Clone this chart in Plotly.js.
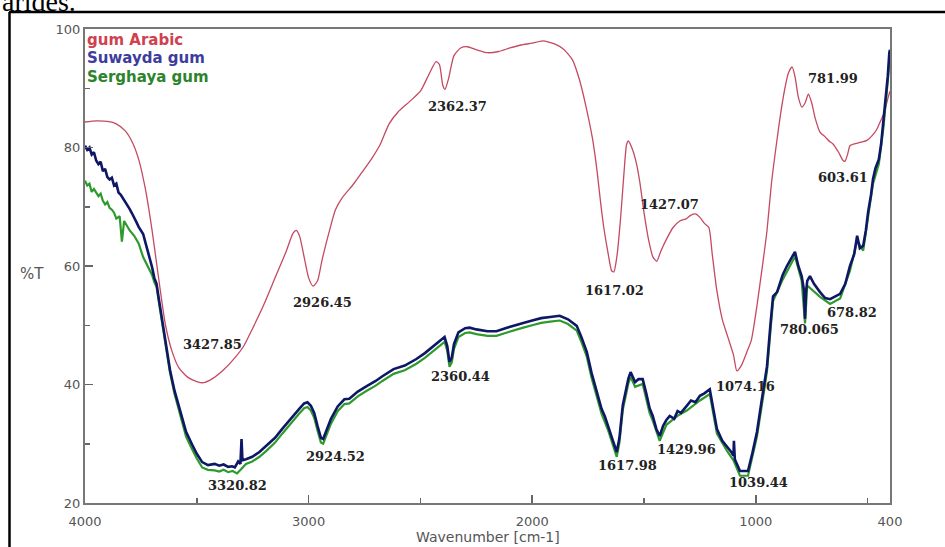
<!DOCTYPE html>
<html>
<head>
<meta charset="utf-8">
<script src="https://cdn.plot.ly/plotly-3.0.1.min.js"></script>
<style>html,body{margin:0;padding:0;background:#fff;}#chart{width:945px;height:547px;}</style>
</head>
<body>
<div id="chart"></div>
<script>
// ---- Data ----
const seriesNames = ["gum Arabic", "Suwayda gum", "Serghaya gum"];

const arabicX = [4000,3950,3900,3860,3820,3790,3760,3730,3700,3680,3660,3640,3610,3580,3540,3500,3470,3430,3380,3330,3290,3250,3200,3150,3100,3070,3055,3040,3020,3000,2980,2960,2940,2910,2880,2850,2800,2760,2720,2680,2640,2600,2550,2500,2460,2430,2415,2400,2390,2375,2350,2320,2290,2250,2200,2150,2100,2050,2000,1953,1900,1860,1820,1790,1760,1730,1710,1695,1680,1660,1645,1635,1620,1605,1590,1578,1570,1555,1535,1519,1500,1480,1460,1443,1425,1400,1370,1340,1310,1290,1270,1250,1230,1210,1195,1175,1150,1125,1100,1085,1065,1040,1020,1000,985,968,950,930,910,890,870,855,838,825,810,794,780,765,750,735,713,690,670,655,630,610,601,590,579,560,530,503,480,460,444,425,410,400];
const arabicY = [84.3,84.5,84.4,84.0,82.8,81.0,78.0,73.0,66.0,60.5,55.0,50.0,45.5,42.8,41.2,40.5,40.3,41.0,42.5,44.5,46.5,49.5,53.5,58.0,62.5,65.5,66.0,65.0,61.5,58.0,56.6,57.5,61.0,65.5,69.5,71.5,73.8,75.9,78.0,80.5,84.0,86.0,87.7,89.5,92.5,94.5,94.0,90.5,89.8,91.5,95.5,96.8,97.0,96.5,96.0,96.2,96.8,97.3,97.6,98.0,97.5,96.6,94.8,91.6,87.0,81.4,76.0,71.0,66.5,62.0,59.2,59.0,62.0,68.0,75.5,80.5,81.1,80.0,77.5,74.2,69.0,64.5,61.5,60.8,62.5,64.5,66.5,67.6,68.0,68.6,68.8,68.2,67.2,66.5,62.0,56.0,51.0,48.0,45.0,42.3,43.2,45.5,47.5,52.0,56.0,60.7,66.0,74.0,80.0,85.5,90.0,92.5,93.6,92.0,88.5,86.8,87.5,89.0,87.5,85.0,82.6,81.8,81.0,80.6,79.2,77.8,77.7,78.8,80.3,80.6,80.9,81.2,82.0,83.0,84.3,86.0,88.2,89.5];

const suwaydaX = [4000,3990,3980,3970,3960,3950,3940,3930,3920,3910,3900,3890,3880,3870,3860,3850,3840,3830,3820,3810,3800,3790,3780,3770,3760,3750,3740,3730,3720,3710,3700,3690,3680,3670,3660,3650,3640,3620,3600,3590,3570,3548,3520,3500,3476,3450,3420,3400,3380,3360,3342,3330,3315,3305,3300,3296,3280,3252,3220,3189,3150,3118,3080,3042,3020,3005,2990,2975,2960,2945,2935,2920,2900,2870,2840,2818,2780,2742,2700,2670,2620,2570,2518,2480,2440,2400,2392,2380,2370,2360,2350,2330,2300,2280,2250,2200,2160,2120,2080,2040,2000,1960,1920,1877,1840,1801,1780,1756,1735,1712,1700,1690,1675,1660,1650,1640,1622,1610,1595,1580,1570,1560,1550,1540,1525,1506,1490,1475,1461,1445,1430,1415,1400,1385,1365,1350,1335,1320,1309,1290,1270,1250,1230,1206,1195,1174,1150,1129,1110,1100,1098,1094,1080,1071,1050,1035,1015,995,975,960,950,935,923,905,880,861,840,825,810,795,785,780,776,770,758,740,713,690,668,645,623,600,579,560,547,535,520,508,498,485,476,465,450,440,430,420,410,403,400];
const suwaydaY = [80.3,79.6,80.0,78.8,79.2,77.8,77.2,77.6,76.0,76.4,75.0,74.6,74.9,73.6,73.9,72.4,72.0,71.4,71.0,70.2,69.6,68.9,68.0,67.4,66.6,66.0,65.4,64.0,62.7,61.0,59.8,58.0,57.0,54.5,52.0,49.5,47.0,42.5,39.0,37.6,34.8,32.0,29.8,28.3,26.9,26.4,26.6,26.3,26.5,26.1,26.2,26.0,27.0,26.6,30.8,27.2,27.4,27.8,28.6,29.6,31.0,32.5,34.3,35.9,36.8,37.0,36.4,35.2,33.0,31.0,30.8,32.2,34.2,36.3,37.5,37.6,38.8,39.7,40.6,41.4,42.6,43.2,44.3,45.3,46.5,47.6,48.0,46.5,43.8,44.5,46.8,48.8,49.5,49.6,49.3,49.0,49.0,49.5,50.0,50.4,50.8,51.2,51.4,51.6,51.0,49.9,48.0,45.5,42.0,38.7,37.0,35.9,34.6,33.0,32.0,30.6,28.6,31.0,36.5,39.5,41.0,42.1,41.2,40.4,40.9,40.9,38.5,36.0,34.7,32.5,31.3,33.0,34.0,34.7,34.2,35.5,35.2,36.0,36.4,37.3,37.0,38.1,38.5,39.2,37.0,32.5,30.5,29.6,28.6,28.0,30.5,27.4,26.2,25.4,25.4,25.4,28.5,32.0,37.0,40.5,43.1,50.0,54.9,55.6,58.5,60.0,61.5,62.4,60.0,58.3,56.0,51.1,55.5,57.5,58.3,57.0,55.6,54.6,54.4,54.8,55.3,57.0,60.0,62.0,65.1,63.0,63.4,66.0,69.1,72.0,74.7,76.5,78.0,80.5,84.0,88.0,92.0,96.0,96.5];

const serghayaX = [4000,3990,3980,3970,3960,3950,3940,3930,3920,3910,3900,3890,3880,3870,3860,3845,3835,3825,3810,3800,3780,3760,3740,3720,3700,3690,3680,3670,3660,3650,3640,3620,3600,3590,3570,3548,3520,3500,3476,3450,3420,3400,3380,3360,3340,3320,3300,3280,3252,3220,3189,3150,3118,3080,3042,3020,3005,2990,2975,2960,2945,2935,2920,2900,2870,2840,2818,2780,2742,2700,2670,2620,2570,2518,2480,2440,2400,2392,2380,2370,2360,2350,2330,2300,2280,2250,2200,2160,2120,2080,2040,2000,1960,1920,1877,1840,1801,1780,1756,1735,1712,1690,1660,1640,1622,1610,1595,1570,1560,1540,1506,1475,1461,1430,1400,1350,1309,1250,1206,1174,1129,1100,1071,1035,1015,995,960,950,923,880,825,795,780,770,713,668,623,579,547,520,498,476,450,430,410,400];
const serghayaY = [74.4,73.6,73.9,72.5,73.0,72.5,71.8,72.2,71.0,70.4,70.8,69.8,69.5,69.0,68.0,68.4,64.1,67.6,66.5,66.0,65.1,63.8,61.5,60.0,58.5,57.3,56.5,54.0,51.5,49.0,46.5,42.0,38.5,37.0,34.0,31.2,29.0,27.5,26.0,25.6,25.5,25.3,25.6,25.2,25.4,25.0,25.8,26.6,27.0,27.8,28.8,30.2,31.7,33.5,35.1,36.0,36.2,35.6,34.4,32.2,30.2,30.0,31.4,33.4,35.5,36.7,36.8,38.0,38.9,39.8,40.6,41.8,42.4,43.5,44.5,45.7,46.8,47.2,45.7,43.0,43.7,46.0,48.0,48.7,48.8,48.5,48.2,48.2,48.7,49.2,49.6,50.0,50.4,50.6,50.8,50.2,49.1,47.2,44.7,41.2,37.9,35.1,32.2,29.8,27.8,30.2,35.7,40.2,41.3,39.6,40.1,35.2,33.9,30.5,33.2,34.7,35.6,37.3,38.4,31.7,28.8,27.2,24.6,24.6,27.7,31.2,39.7,42.3,54.1,57.7,61.6,57.5,50.3,56.7,54.8,53.6,54.5,59.2,64.3,62.6,68.3,73.9,77.2,83.2,91.2,95.7];

// peak labels (text, wavenumber position, %T position)
const peakText = ["2362.37","3427.85","2926.45","1617.02","1427.07","1074.16","781.99","603.61","678.82","780.065","1039.44","1429.96","1617.98","3320.82","2924.52","2360.44"];
const peakX    = [2336,3432,2936,1630,1384,1048,655,610,570,758,990,1308,1576,3320,2882,2323];
const peakY    = [87.0,46.7,53.8,55.9,70.3,39.6,91.7,75.0,52.1,49.2,23.4,29.1,26.4,22.9,27.8,41.4];

// axis ticks
const xTickVals = [4000,3000,2000,1000,400];
const xTickText = ["4000","3000","2000","1000","400"];
const yTickVals = [20,40,60,80,100];

const colors = {arabic:"#c44a60", suwayda:"#0e1766", serghaya:"#2f9a2c"};
const legendColors = ["#d0404f","#3d3d9e","#2c842c"];

const traces = [
  {x: arabicX, y: arabicY, type:"scatter", mode:"lines", name: seriesNames[0],
   line:{color:colors.arabic, width:1.3, shape:"spline", smoothing:0.6}},
  {x: serghayaX, y: serghayaY, type:"scatter", mode:"lines", name: seriesNames[2],
   line:{color:colors.serghaya, width:2.2}},
  {x: suwaydaX, y: suwaydaY, type:"scatter", mode:"lines", name: seriesNames[1],
   line:{color:colors.suwayda, width:2.6}}
];

const L = 85, R = 890, T = 29, B = 503, W = 945, H = 547;
const px = v => (v - L) / (R - L);
const py = v => (B - v) / (B - T);

const annotations = [];
peakText.forEach((t,i) => annotations.push({
  x: peakX[i], y: peakY[i], xref:"x", yref:"y", xanchor:"center", yanchor:"middle", text:t, showarrow:false,
  font:{family:"DejaVu Sans", size:1, color:"#222"}
}));
annotations.forEach(a => { a.font = {family:"DejaVu Serif", size:13, color:"#222", weight:"bold"}; });
const legendY = [40.5, 58.5, 76.5];
[0,1,2].forEach(i => annotations.push({
  x: px(86), y: py(legendY[i]), xref:"paper", yref:"paper", xanchor:"left", yanchor:"middle",
  text: seriesNames[i], showarrow:false, borderpad:0,
  font:{family:"DejaVu Sans", size:15, color:legendColors[i], weight:"bold"}
}));
annotations.push({x: px(32), y: py(274), xref:"paper", yref:"paper", xanchor:"center", yanchor:"middle",
  text:"%T", showarrow:false, font:{family:"DejaVu Sans", size:15, color:"#555"}});
annotations.push({x: px(488), y: py(537), xref:"paper", yref:"paper", xanchor:"center", yanchor:"middle",
  text:"Wavenumber [cm-1]", showarrow:false, font:{family:"DejaVu Sans", size:14, color:"#555"}});
annotations.push({x: px(0), y: py(1), xref:"paper", yref:"paper", xanchor:"left", yanchor:"middle",
  text:"arides.", showarrow:false, font:{family:"Liberation Serif", size:28, color:"#000"}});

const layout = {
  width: W, height: H,
  margin:{l:L, r:W-R, t:T, b:H-B, pad:0},
  paper_bgcolor:"#fff", plot_bgcolor:"#fff",
  showlegend:false,
  xaxis:{range:[4000,400], tickmode:"array", tickvals:xTickVals, ticktext:xTickText,
    ticks:"inside", ticklen:8, tickwidth:1.5, tickcolor:"#666", ticklabelstandoff:5,
    minor:{dtick:500, tick0:500, ticks:"inside", ticklen:5, tickwidth:1.5, tickcolor:"#666", showgrid:false},
    showgrid:false, zeroline:false, showline:true, linecolor:"#777", linewidth:2, mirror:true,
    tickfont:{family:"DejaVu Sans", size:13, color:"#555"}},
  yaxis:{range:[20,100], tickmode:"array", tickvals:yTickVals,
    ticks:"inside", ticklen:8, tickwidth:1.5, tickcolor:"#666",
    minor:{dtick:10, tick0:0, ticks:"inside", ticklen:5, tickwidth:1.5, tickcolor:"#666", showgrid:false},
    showgrid:false, zeroline:false, showline:true, linecolor:"#777", linewidth:2, mirror:true,
    tickfont:{family:"DejaVu Sans", size:13, color:"#555"}},
  annotations: annotations,
  shapes:[
    {type:"line", xref:"paper", yref:"paper", x0:px(9.5), x1:px(9.5), y0:py(12), y1:py(H), line:{color:"#000", width:2.5}},
    {type:"line", xref:"paper", yref:"paper", x0:px(9), x1:px(W), y0:py(12), y1:py(12), line:{color:"#000", width:2.5}}
  ]
};

Plotly.newPlot("chart", traces, layout, {staticPlot:true, displayModeBar:false});
</script>
</body>
</html>
